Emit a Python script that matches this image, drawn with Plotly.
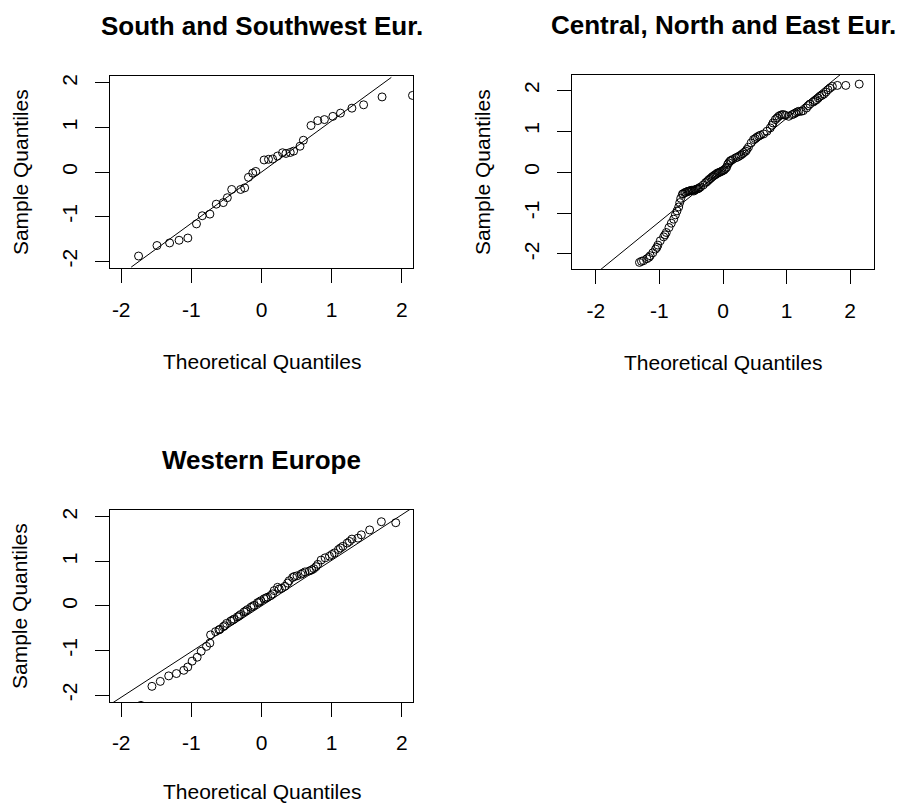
import plotly.graph_objects as go

W, H = 899, 805

# ---------------- data ----------------
titles = ["South and Southwest Eur.", "Central, North and East Eur.", "Western Europe"]

sw_x = [-1.753, -1.49, -1.31, -1.175, -1.05, -0.927, -0.845, -0.736, -0.645, -0.545,
        -0.487, -0.425, -0.297, -0.24, -0.186, -0.125, -0.082, 0.037, 0.1, 0.158,
        0.229, 0.3, 0.348, 0.41, 0.458, 0.549, 0.597, 0.706, 0.802, 0.897,
        1.017, 1.126, 1.289, 1.456, 1.719, 2.153]
sw_y = [-1.884, -1.648, -1.59, -1.53, -1.48, -1.163, -0.98, -0.943, -0.72, -0.685,
        -0.575, -0.39, -0.39, -0.354, -0.118, -0.023, 0.014, 0.272, 0.286, 0.294,
        0.36, 0.434, 0.418, 0.44, 0.47, 0.58, 0.714, 1.045, 1.155, 1.178,
        1.25, 1.323, 1.434, 1.51, 1.686, 1.72]
sw_line_x = [-1.858, 1.851]
sw_line_y = [-2.133, 2.125]

ce_x = [-1.314, -1.283, -1.251, -1.198, -1.166, -1.145, -1.104, -1.061, -1.040, -1.025,
        -0.987, -0.934, -0.913, -0.892, -0.850, -0.813, -0.776, -0.749, -0.724, -0.697,
        -0.681, -0.665,
        -0.639, -0.628, -0.602, -0.586, -0.565, -0.549, -0.533, -0.512, -0.496, -0.480,
        -0.459, -0.443, -0.428, -0.407, -0.391, -0.375, -0.354, -0.311, -0.275, -0.253,
        -0.232, -0.216, -0.195, -0.174, -0.153, -0.132, -0.111, -0.095, -0.074, -0.058,
        -0.037, -0.016, 0.005, 0.021, 0.042, 0.058, 0.074, 0.090, 0.111, 0.127,
        0.153, 0.200, 0.227, 0.253, 0.280, 0.306, 0.332, 0.359, 0.375, 0.401,
        0.443, 0.480, 0.507, 0.533, 0.559, 0.586, 0.639, 0.692, 0.744, 0.771,
        0.787, 0.823, 0.850, 0.876, 0.903, 0.929, 0.955, 0.982, 1.034, 1.088,
        1.114, 1.140, 1.167, 1.192, 1.230, 1.262, 1.314, 1.341, 1.367, 1.420,
        1.446, 1.473, 1.499, 1.525, 1.556, 1.588, 1.620, 1.652, 1.683, 1.721,
        1.800, 1.932, 2.143]
ce_y = [-2.207, -2.180, -2.165, -2.117, -2.084, -2.044, -1.971, -1.881, -1.840, -1.784,
        -1.679, -1.582, -1.533, -1.476, -1.355, -1.249, -1.151, -1.046, -0.949, -0.852,
        -0.746, -0.641,
        -0.543, -0.528, -0.503, -0.495, -0.479, -0.470, -0.462, -0.454, -0.446, -0.446,
        -0.462, -0.438, -0.422, -0.414, -0.405, -0.389, -0.365, -0.316, -0.260, -0.235,
        -0.203, -0.178, -0.154, -0.122, -0.097, -0.073, -0.057, -0.032, -0.016, -0.008,
        0.008, 0.024, 0.041, 0.057, 0.090, 0.122, 0.187, 0.227, 0.268, 0.284,
        0.308, 0.349, 0.365, 0.389, 0.414, 0.446, 0.479, 0.511, 0.552, 0.608,
        0.713, 0.795, 0.819, 0.852, 0.876, 0.900, 0.932, 0.998, 1.078, 1.144,
        1.200, 1.282, 1.322, 1.363, 1.387, 1.403, 1.403, 1.387, 1.363, 1.403,
        1.420, 1.444, 1.468, 1.484, 1.484, 1.500, 1.565, 1.622, 1.662, 1.711,
        1.744, 1.768, 1.808, 1.849, 1.873, 1.905, 1.954, 2.011, 2.051, 2.092,
        2.117, 2.117, 2.149]
ce_line_x = [-1.921, 1.842]
ce_line_y = [-2.376, 2.376]

we_x = [-1.72, -1.562, -1.443, -1.323, -1.213, -1.108, -1.051, -0.989, -0.917, -0.860,
        -0.784, -0.736, -0.726, -0.655, -0.607, -0.593, -0.544, -0.526, -0.497, -0.440,
        -0.415, -0.392, -0.344, -0.320, -0.297, -0.249, -0.225, -0.201, -0.153, -0.129,
        -0.106, -0.057, -0.034, -0.010, 0.037, 0.062, 0.086, 0.133, 0.158, 0.181,
        0.229, 0.252, 0.287, 0.334, 0.372, 0.395, 0.444, 0.467, 0.506, 0.563,
        0.587, 0.620, 0.682, 0.716, 0.745, 0.778, 0.802, 0.850, 0.907, 0.969,
        1.003, 1.040, 1.097, 1.126, 1.160, 1.222, 1.255, 1.289, 1.375, 1.423,
        1.542, 1.709, 1.914]
we_y = [-2.23, -1.803, -1.692, -1.568, -1.516, -1.443, -1.369, -1.237, -1.149, -1.016,
        -0.906, -0.832, -0.648, -0.575, -0.537, -0.523, -0.464, -0.442, -0.390, -0.339,
        -0.317, -0.295, -0.244, -0.221, -0.191, -0.134, -0.111, -0.081, -0.030, -0.008,
        0.014, 0.074, 0.087, 0.118, 0.162, 0.176, 0.198, 0.235, 0.272, 0.346,
        0.419, 0.383, 0.397, 0.441, 0.515, 0.567, 0.640, 0.662, 0.677, 0.713,
        0.735, 0.765, 0.787, 0.809, 0.838, 0.882, 0.934, 1.030, 1.081, 1.118,
        1.155, 1.191, 1.266, 1.301, 1.339, 1.412, 1.449, 1.501, 1.523, 1.597,
        1.707, 1.891, 1.869]
we_line_x = [-2.3, 2.3]
we_line_y = [-2.355, 2.355]

tick_vals = [-2, -1, 0, 1, 2]
tick_text = ["-2", "-1", "0", "1", "2"]
x_title = "Theoretical Quantiles"
y_title = "Sample Quantiles"

# ---------------- layout geometry (window pixels) ----------------
# (left, right, top, bottom) of each plot box
boxes = [(110, 413, 74, 267), (572, 874, 73, 268), (110, 413, 509, 702)]
ranges = [2.16, 2.376, 2.16]
# vertical offset of each x-axis title below its box
xtitle_gap = [93, 93, 89]

FONT = "Liberation Sans, Arial, sans-serif"


def fx(p):
    return p / W


def fy(p):
    return 1 - p / H


fig = go.Figure()
series = [(sw_x, sw_y, sw_line_x, sw_line_y),
          (ce_x, ce_y, ce_line_x, ce_line_y),
          (we_x, we_y, we_line_x, we_line_y)]

annotations = []
for i, ((px, py, lx, ly), (l, r, t, b), rg) in enumerate(zip(series, boxes, ranges)):
    k = "" if i == 0 else str(i + 1)
    xa, ya = "x" + k, "y" + k
    fig.add_trace(go.Scatter(x=px, y=py, mode="markers", xaxis=xa, yaxis=ya,
                             marker=dict(symbol="circle-open", size=8, color="black",
                                         line=dict(width=1, color="black")),
                             showlegend=False, hoverinfo="x+y"))
    fig.add_trace(go.Scatter(x=lx, y=ly, mode="lines", xaxis=xa, yaxis=ya,
                             line=dict(color="black", width=1),
                             showlegend=False, hoverinfo="skip"))
    ax_common = dict(showgrid=False, zeroline=False, showline=True, mirror=True,
                     linecolor="black", linewidth=1, ticks="outside", ticklen=14,
                     tickwidth=1, tickcolor="black", tickvals=tick_vals, ticktext=tick_text,
                     tickfont=dict(family=FONT, size=21, color="black"),
                     range=[-rg, rg], fixedrange=True)
    fig.update_layout(**{
        "xaxis" + k: dict(ax_common, domain=[fx(l), fx(r)], anchor=ya, ticklabelstandoff=8),
        "yaxis" + k: dict(ax_common, domain=[fy(b), fy(t)], anchor=xa,
                          tickangle=-90, ticklabelstandoff=10),
    })
    cx = fx((l + r) / 2)
    annotations.append(dict(text="<b>" + titles[i] + "</b>", x=cx, y=fy(t - 50),
                            xref="paper", yref="paper", showarrow=False,
                            xanchor="center", yanchor="middle",
                            font=dict(family=FONT, size=26, color="black")))
    annotations.append(dict(text=x_title, x=cx, y=fy(b + xtitle_gap[i]),
                            xref="paper", yref="paper", showarrow=False,
                            xanchor="center", yanchor="middle",
                            font=dict(family=FONT, size=21, color="black")))
    annotations.append(dict(text=y_title, x=fx(l - 90), y=fy((t + b) / 2),
                            xref="paper", yref="paper", showarrow=False, textangle=-90,
                            xanchor="center", yanchor="middle",
                            font=dict(family=FONT, size=21, color="black")))

fig.update_layout(width=W, height=H, margin=dict(l=0, r=0, t=0, b=0),
                  plot_bgcolor="white", paper_bgcolor="white",
                  annotations=annotations, showlegend=False)

fig.write_html("out.html", config={"displayModeBar": False},
               post_script="document.body.style.margin='0px';"
                           "document.body.style.overflow='hidden';")
